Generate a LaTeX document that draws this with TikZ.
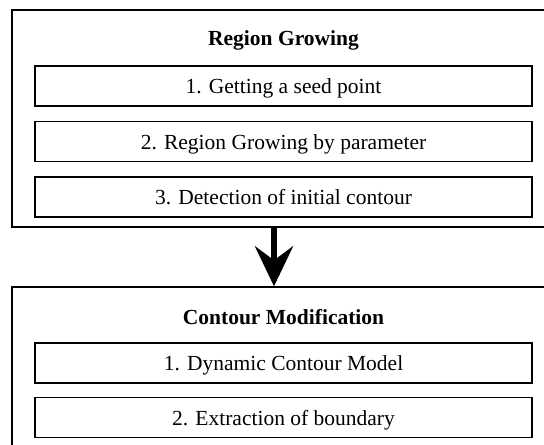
\documentclass[tikz,border=0pt]{standalone}
\usepackage{fontspec}
\setmainfont{Liberation Serif}
\usetikzlibrary{arrows.meta}

\tikzset{
  stagebox/.style={draw, line width=0.7pt, minimum width=271.5pt, minimum height=108.5pt, inner sep=0pt},
  stepbox/.style={draw, line width=0.8pt, minimum width=248.5pt, minimum height=20pt, inner sep=0pt, text height=7.5pt, text depth=0pt},
  stagetitle/.style={font=\fontsize{10.75}{13}\selectfont\bfseries, anchor=base},
  bigarrow/.style={line width=3pt, -{Stealth[length=20pt, width=19pt, inset=7pt]}}
}

\begin{document}
\begin{tikzpicture}[x=0.5pt, y=-0.5pt, font=\fontsize{10.75}{13}\selectfont]
    % Fix the page size
    \useasboundingbox (0,0) rectangle (544,444);
    \clip (0,0) rectangle (544,444);

    % Draw the two stages
    \node[stagebox] (rg) at (283.5,118.5) {};
    \node[stagebox] (cm) at (283.5,395.5) {};

    % Add stage titles
    \node[stagetitle] (rgtitle) at (283.5,46) {Region Growing};
    \node[stagetitle] (cmtitle) at (283.5,324) {Contour Modification};

    % Draw the steps of the first stage
    \node[stepbox] (rg1) at (283.5,86) {1. Getting a seed point};
    \node[stepbox] (rg2) at (283.5,141.5) {2. Region Growing by parameter};
    \node[stepbox] (rg3) at (283.5,197) {3. Detection of initial contour};

    % Draw the steps of the second stage
    \node[stepbox] (cm1) at (283.5,363) {1. Dynamic Contour Model};
    \node[stepbox] (cm2) at (283.5,417.5) {2. Extraction of boundary};

    % Draw the arrow between the stages
    \coordinate (ax) at (274,0);
    \draw[bigarrow] (rg.south -| ax) -- (cm.north -| ax);
\end{tikzpicture}
\end{document}
